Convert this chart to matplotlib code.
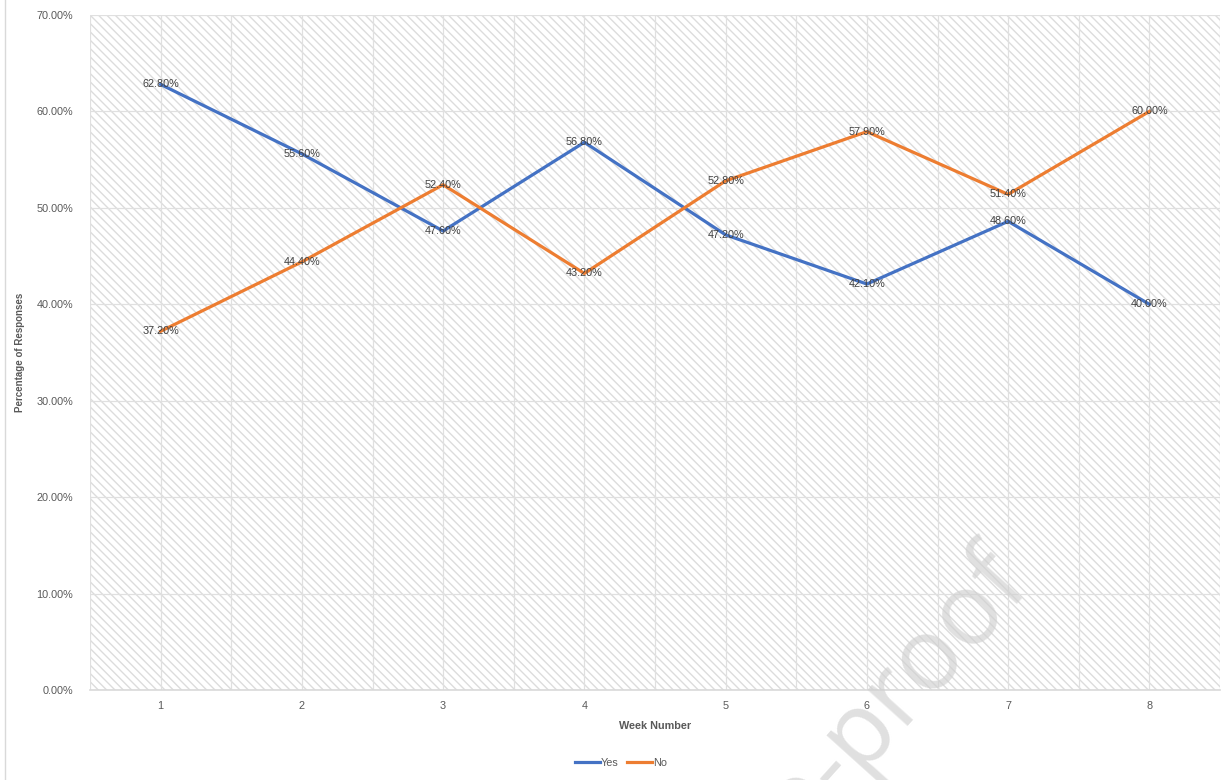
import numpy as np
import matplotlib
matplotlib.use('Agg')
import matplotlib.pyplot as plt
from matplotlib.patches import Rectangle
from matplotlib.ticker import FuncFormatter, MultipleLocator

plt.rcParams['font.family'] = ['Liberation Sans', 'DejaVu Sans']
plt.rcParams['hatch.linewidth'] = 1.0

# 数据
weeks = [1, 2, 3, 4, 5, 6, 7, 8]
yes_pct = [62.8, 55.6, 47.6, 56.8, 47.2, 42.1, 48.6, 40.0]
no_pct = [37.2, 44.4, 52.4, 43.2, 52.8, 57.9, 51.4, 60.0]
series_names = ['Yes', 'No']

BLUE = '#4472C4'
ORANGE = '#ED7D31'
TEXT = '#595959'

fig = plt.figure(figsize=(12.26, 7.80), dpi=100)
ax = fig.add_axes([90 / 1226, 90 / 780, 1130 / 1226, 675 / 780])

# 斜线底纹
bg = Rectangle((0, 0), 1, 1, transform=ax.transAxes, facecolor='white',
               edgecolor='#dcdcdc', hatch='\\\\\\\\', linewidth=0, zorder=0)
ax.add_patch(bg)

ax.plot(weeks, yes_pct, color=BLUE, linewidth=2.3, label=series_names[0], zorder=3)
ax.plot(weeks, no_pct, color=ORANGE, linewidth=2.3, label=series_names[1], zorder=3)

for x, y in zip(weeks, yes_pct):
    ax.text(x, y, f'{y:.2f}%', ha='center', va='center', fontsize=7.8, color='#404040', zorder=4)
for x, y in zip(weeks, no_pct):
    ax.text(x, y, f'{y:.2f}%', ha='center', va='center', fontsize=7.8, color='#404040', zorder=4)

ax.set_xlim(0.5, 8.5)
ax.set_ylim(0, 70)
ax.set_xticks(weeks)
ax.set_xticks(np.arange(0.5, 9, 1), minor=True)
ax.yaxis.set_major_locator(MultipleLocator(10))
ax.yaxis.set_major_formatter(FuncFormatter(lambda v, p: f'{v:.2f}%'))

ax.grid(True, which='major', color='#e0e0e0', linewidth=0.9, zorder=1)
ax.grid(True, which='minor', axis='x', color='#e0e0e0', linewidth=0.9, zorder=1)
ax.set_axisbelow(True)

for s in ['top', 'right', 'left']:
    ax.spines[s].set_visible(False)
ax.spines['bottom'].set_color('#d9d9d9')
ax.spines['bottom'].set_linewidth(1.2)
ax.tick_params(which='both', length=0, labelsize=7.8, labelcolor=TEXT)
ax.tick_params(axis='x', pad=8)
ax.tick_params(axis='y', pad=12)

ax.set_xlabel('Week Number', fontsize=7.8, fontweight='bold', color=TEXT, labelpad=7)
ax.set_ylabel('Percentage of Responses', fontsize=7, fontweight='bold', color=TEXT, labelpad=8)

ax.legend(loc='upper center', bbox_to_anchor=(0.47, -0.086), ncol=2, frameon=False,
          fontsize=7.8, handlelength=2.3, handletextpad=0.1, columnspacing=0.8,
          labelcolor=TEXT)

# 左侧边框
fig.add_artist(plt.Line2D([5 / 1226, 5 / 1226], [0, 1], color='#d9d9d9', linewidth=1))

# 水印
fig.text(1036 / 1226, 1 - 592 / 780, 'Journal Pre-proof', fontsize=72, color='#d0d0d0',
         alpha=0.65, rotation=48, rotation_mode='anchor', ha='right', va='baseline',
         family='Open Sans', zorder=10)

fig.savefig('out.png', dpi=100)
